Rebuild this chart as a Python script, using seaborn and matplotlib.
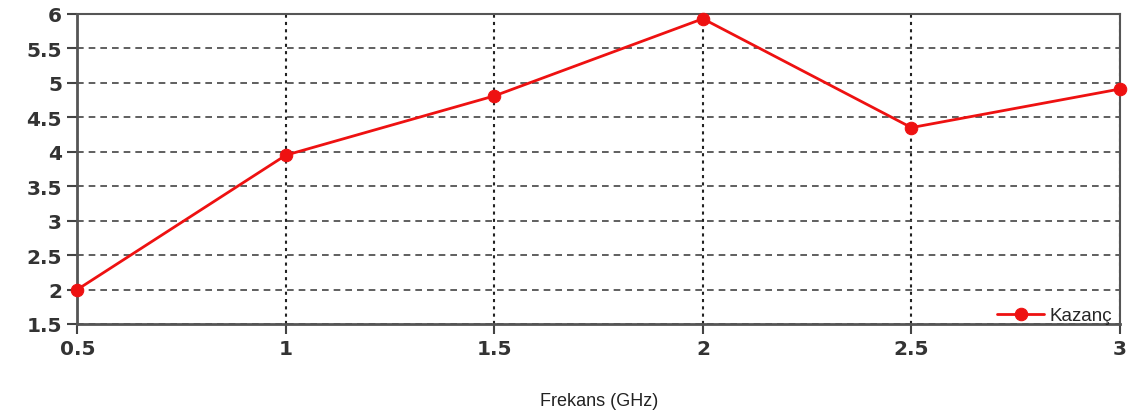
import matplotlib
matplotlib.use("Agg")
import matplotlib.pyplot as plt
import seaborn as sns
import pandas as pd

# Frekans (GHz) ve kazanç değerleri
frekans = [0.5, 1.0, 1.5, 2.0, 2.5, 3.0]
kazanc = [2.0, 3.95, 4.81, 5.93, 4.35, 4.91]
y_ticks = [1.5, 2, 2.5, 3, 3.5, 4, 4.5, 5, 5.5, 6]
x_ticks = [0.5, 1, 1.5, 2, 2.5, 3]

df = pd.DataFrame({"Frekans": frekans, "Kazanç": kazanc})

sns.set_style("white")
fig = plt.figure(figsize=(11.37, 4.14), dpi=100)
ax = fig.add_axes([0.068, 0.215, 0.917, 0.749])

sns.lineplot(data=df, x="Frekans", y="Kazanç", ax=ax, color="#ee1111",
             marker="o", markersize=9, markeredgecolor="#ee1111",
             linewidth=2, label="Kazanç", clip_on=False, zorder=5)

ax.set_xlim(0.5, 3)
ax.set_ylim(1.5, 6)
ax.set_xticks(x_ticks)
ax.set_xticklabels(["0.5", "1", "1.5", "2", "2.5", "3"])
ax.set_yticks(y_ticks)
ax.set_yticklabels(["1.5", "2", "2.5", "3", "3.5", "4", "4.5", "5", "5.5", "6"])

# yatay kesikli, dikey noktalı ızgara
ax.yaxis.grid(True, linestyle=(0, (4, 3)), color="#444444", linewidth=1.2)
ax.xaxis.grid(True, linestyle=(0, (1.5, 2)), color="#222222", linewidth=1.5)
ax.set_axisbelow(True)

for s in ax.spines.values():
    s.set_color("#555555")
    s.set_linewidth(1.5)
ax.spines["left"].set_linewidth(2)
ax.spines["bottom"].set_linewidth(2)

ax.tick_params(axis="both", direction="out", length=7, width=1.5, color="#444444",
               labelsize=14.5, labelcolor="#333333", pad=4, bottom=True, left=True)
for lab in ax.get_xticklabels() + ax.get_yticklabels():
    lab.set_family("DejaVu Sans")
    lab.set_fontweight("bold")

ax.set_xlabel("Frekans (GHz)", fontsize=13, family="Liberation Sans", color="#222222", labelpad=24)
ax.set_ylabel("")

leg = ax.legend(loc="lower right", bbox_to_anchor=(1.0, -0.025), frameon=False,
                prop={"family": "Liberation Sans", "size": 13.5},
                handlelength=2.5, borderaxespad=0.0, handletextpad=0.3)

fig.savefig("out.png", dpi=100)
